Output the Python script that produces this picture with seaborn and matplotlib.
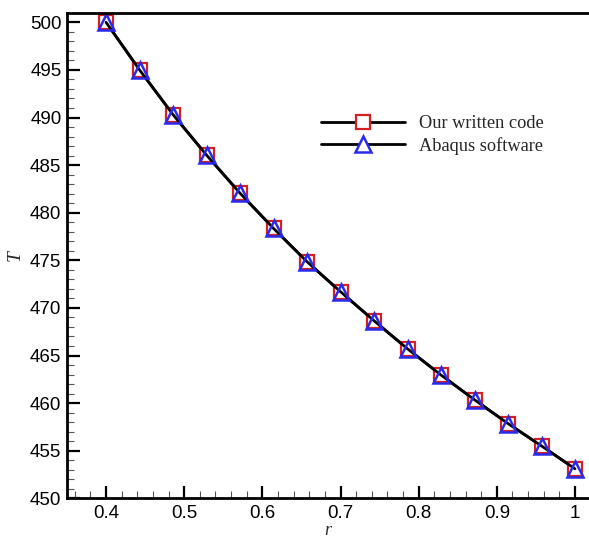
import matplotlib
matplotlib.use("Agg")
import matplotlib.pyplot as plt
import seaborn as sns
import numpy as np
import pandas as pd

r_values = [0.4, 0.442857, 0.485714, 0.528571, 0.571429, 0.614286, 0.657143, 0.7,
            0.742857, 0.785714, 0.828571, 0.871429, 0.914286, 0.957143, 1.0]
T_code = [500.0, 495.0, 490.3, 486.05, 482.05, 478.35, 474.85, 471.7,
          468.65, 465.7, 462.95, 460.35, 457.85, 455.5, 453.1]
T_abaqus = [500.0, 495.0, 490.3, 486.05, 482.05, 478.35, 474.85, 471.7,
            468.65, 465.7, 462.95, 460.35, 457.85, 455.5, 453.1]
labels = ["Our written code", "Abaqus software"]
xticks = [0.4, 0.5, 0.6, 0.7, 0.8, 0.9, 1.0]
xticklabels = ["0.4", "0.5", "0.6", "0.7", "0.8", "0.9", "1"]
yticks = [450, 455, 460, 465, 470, 475, 480, 485, 490, 495, 500]

sns.set_style("white")
plt.rcParams['font.family'] = ['Liberation Sans', 'DejaVu Sans']

fig = plt.figure(figsize=(5.89, 5.38), dpi=100)
ax = fig.add_axes([67/589, 1 - 498.3/538, 1 - 67/589, (498.3 - 13)/538])

df1 = pd.DataFrame({"r": r_values, "T": T_code})
df2 = pd.DataFrame({"r": r_values, "T": T_abaqus})

sns.lineplot(data=df1, x="r", y="T", ax=ax, color="black", linewidth=2,
             marker="s", markersize=10, markeredgecolor="#d42020",
             markerfacecolor="white", markeredgewidth=1.6, label=labels[0])
sns.lineplot(data=df2, x="r", y="T", ax=ax, color="black", linewidth=2,
             marker="^", markersize=12, markeredgecolor="#2a2aef",
             markerfacecolor="none", markeredgewidth=1.8, label=labels[1])

ax.set_xlim(0.35, 1.0179)
ax.set_ylim(450, 500.98)
ax.set_xticks(xticks)
ax.set_xticklabels(xticklabels)
ax.set_yticks(yticks)
ax.set_xticks(np.arange(0.36, 1.0001, 0.02), minor=True)
ax.set_yticks(np.arange(450, 501, 1), minor=True)

ax.tick_params(axis="both", which="major", direction="in", length=9, width=1.6,
               labelsize=13.5, colors="black")
ax.tick_params(axis="both", which="minor", direction="in", length=5, width=0.8,
               colors="#555555")
ax.tick_params(axis="y", which="both", left=True, right=False, pad=4)
ax.tick_params(axis="x", which="both", bottom=True, top=False, pad=5)

for s in ["left", "bottom", "top"]:
    ax.spines[s].set_visible(True)
    ax.spines[s].set_linewidth(2)
    ax.spines[s].set_color("black")
ax.spines["right"].set_visible(False)

ax.set_xlabel("r", fontsize=13, fontstyle="italic", family="Liberation Serif")
ax.set_ylabel("T", fontsize=14, fontstyle="italic", family="Liberation Serif")
ax.xaxis.set_label_coords(0.5, -0.048)
ax.yaxis.set_label_coords(-0.082, 0.5)

leg = ax.legend(loc="center left", bbox_to_anchor=(321/589, 1 - 135/538),
                bbox_transform=fig.transFigure, frameon=False,
                prop={"family": "Liberation Serif", "size": 13.2},
                handlelength=4.6, handletextpad=0.75, labelspacing=0.25,
                borderpad=0, borderaxespad=0)
for h in leg.legend_handles:
    h.set_markerfacecolor("white")

fig.savefig("out.png", dpi=100)
